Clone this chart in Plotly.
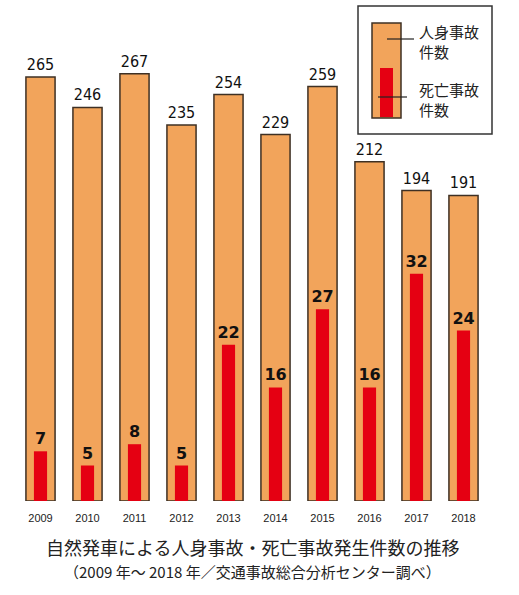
import plotly.graph_objects as go

# data
annees = ['2009', '2010', '2011', '2012', '2013', '2014', '2015', '2016', '2017', '2018']
jinshin = [265, 246, 267, 235, 254, 229, 259, 212, 194, 191]
shibou = [7, 5, 8, 5, 22, 16, 27, 16, 32, 24]

titre = '自然発車による人身事故・死亡事故発生件数の推移'
sous_titre = '（2009 年～ 2018 年／交通事故総合分析センター調べ）'
leg_jinshin = '人身事故<br>件数'
leg_shibou = '死亡事故<br>件数'

ORANGE = '#F2A45B'
ROUGE = '#E50012'
BORD = '#3E3024'

W, H = 519, 595
L, R, T, B = 17, 32, 5, 94
pw, ph = W - L - R, H - T - B


def px(x):
    return (x - L) / pw


def py(y):
    return (H - B - y) / ph


fig = go.Figure()
fig.add_trace(go.Bar(
    x=annees, y=jinshin, width=0.62,
    marker=dict(color=ORANGE, line=dict(color=BORD, width=1.5)),
    text=jinshin, textposition='outside', cliponaxis=False, constraintext='none',
    textfont=dict(family='DejaVu Sans Condensed, Liberation Sans Narrow, Roboto', size=16, color='#111'),
    yaxis='y', showlegend=False, hoverinfo='skip'))
fig.add_trace(go.Bar(
    x=annees, y=shibou, width=0.28,
    marker=dict(color=ROUGE, line=dict(width=0)),
    text=shibou, textposition='outside', cliponaxis=False, constraintext='none',
    textfont=dict(family='DejaVu Sans', size=16, color='#111', weight=900),
    yaxis='y2', showlegend=False, hoverinfo='skip'))

shapes = [
    # cadre de la légende
    dict(type='rect', xref='paper', yref='paper', x0=px(358), x1=px(492), y0=py(134), y1=py(6),
         line=dict(color='#333', width=1.5), fillcolor='white'),
    dict(type='rect', xref='paper', yref='paper', x0=px(372), x1=px(401), y0=py(118), y1=py(23),
         line=dict(color=BORD, width=1.5), fillcolor=ORANGE),
    dict(type='rect', xref='paper', yref='paper', x0=px(380), x1=px(393), y0=py(117), y1=py(68),
         line=dict(width=0), fillcolor=ROUGE),
    dict(type='line', xref='paper', yref='paper', x0=px(387), x1=px(414), y0=py(39), y1=py(39),
         line=dict(color='#222', width=1.2)),
    dict(type='line', xref='paper', yref='paper', x0=px(378), x1=px(407), y0=py(97), y1=py(97),
         line=dict(color='#222', width=1.2)),
]

police_jp = 'Noto Sans CJK JP'
annotations = [
    dict(text=leg_jinshin, xref='paper', yref='paper', x=px(417), y=py(42), xanchor='left', yanchor='middle',
         showarrow=False, align='left', font=dict(family=police_jp, size=15, color='#222')),
    dict(text=leg_shibou, xref='paper', yref='paper', x=px(417), y=py(99), xanchor='left', yanchor='middle',
         showarrow=False, align='left', font=dict(family=police_jp, size=15, color='#222')),
    dict(text=titre, xref='paper', yref='paper', x=px(253), y=py(547), xanchor='center', yanchor='middle',
         showarrow=False, font=dict(family=police_jp, size=18, color='#222')),
    dict(text=sous_titre, xref='paper', yref='paper', x=px(252), y=py(571), xanchor='center', yanchor='middle',
         showarrow=False, font=dict(family=police_jp, size=15, color='#222')),
]

fig.update_layout(
    width=W, height=H, margin=dict(l=L, r=R, t=T, b=B),
    paper_bgcolor='white', plot_bgcolor='white',
    barmode='overlay',
    xaxis=dict(type='category', range=[-0.5, 9.5], showgrid=False, showline=False, zeroline=False,
               ticks='', ticklabelstandoff=9,
               tickfont=dict(family='Liberation Sans, Arial', size=11, color='#222')),
    yaxis=dict(range=[0, ph / 1.6], visible=False),
    yaxis2=dict(range=[0, ph / 7.1], overlaying='y', visible=False),
    shapes=shapes, annotations=annotations,
)

# pas de marge autour du graphique dans la page
fig.write_html('out.html', config={'displayModeBar': False},
               post_script="document.body.style.margin='0';")
